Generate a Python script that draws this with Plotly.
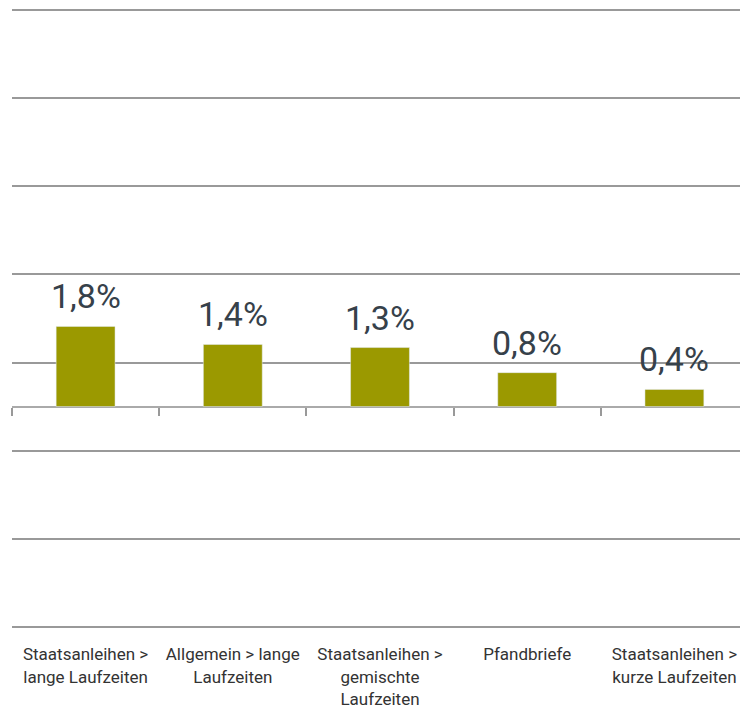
import plotly.graph_objects as go

categories = ["Staatsanleihen ><br>lange Laufzeiten", "Allgemein > lange<br>Laufzeiten",
              "Staatsanleihen ><br>gemischte<br>Laufzeiten", "Pfandbriefe",
              "Staatsanleihen ><br>kurze Laufzeiten"]
values = [1.82, 1.41, 1.34, 0.77, 0.39]
value_labels = ["1,8%", "1,4%", "1,3%", "0,8%", "0,4%"]
grid_ticks = [-5, -3, -1, 1, 3, 5, 7, 9]

idx = list(range(len(categories)))

fig = go.Figure()
fig.add_trace(go.Bar(x=idx, y=values, width=0.4, marker_color="#9b9900"))

# value labels above the bars
for i, v, lab in zip(idx, values, value_labels):
    fig.add_annotation(x=i, y=v, text=lab, showarrow=False, yanchor="bottom",
                       yshift=8, font=dict(size=34, color="#36414a", family="Roboto"))

fig.update_layout(
    width=740, height=700,
    margin=dict(l=4, r=0, t=1, b=80, autoexpand=False),
    plot_bgcolor="white", paper_bgcolor="white",
    showlegend=False,
    font=dict(family="Roboto", size=16, color="#333333"),
    xaxis=dict(range=[-0.5, 4.5], tickvals=[-0.5, 0.5, 1.5, 2.5, 3.5, 4.5],
               showticklabels=False, ticks="outside", ticklen=8, tickcolor="#999999",
               tickwidth=1.5, showline=False, showgrid=False, zeroline=False,
               anchor="free", position=5.03 / 14.06, automargin=False),
    xaxis2=dict(range=[-0.5, 4.5], overlaying="x", side="bottom", anchor="y",
                tickvals=idx, ticktext=categories, showline=False, showgrid=False,
                zeroline=False, ticks="outside", ticklen=11, tickcolor="rgba(0,0,0,0)",
                automargin=False, tickfont=dict(size=17, color="#333333")),
    yaxis=dict(range=[-5.03, 9.03], tickvals=grid_ticks, showticklabels=False,
               showgrid=True, gridcolor="#999999", gridwidth=2, automargin=False,
               zeroline=True, zerolinecolor="#aaaaaa", zerolinewidth=1.5),
)
# invisible trace so xaxis2 gets drawn
fig.add_trace(go.Scatter(x=idx, y=[None] * len(idx), xaxis="x2", showlegend=False,
                         hoverinfo="skip"))

fig.write_html("out.html")
